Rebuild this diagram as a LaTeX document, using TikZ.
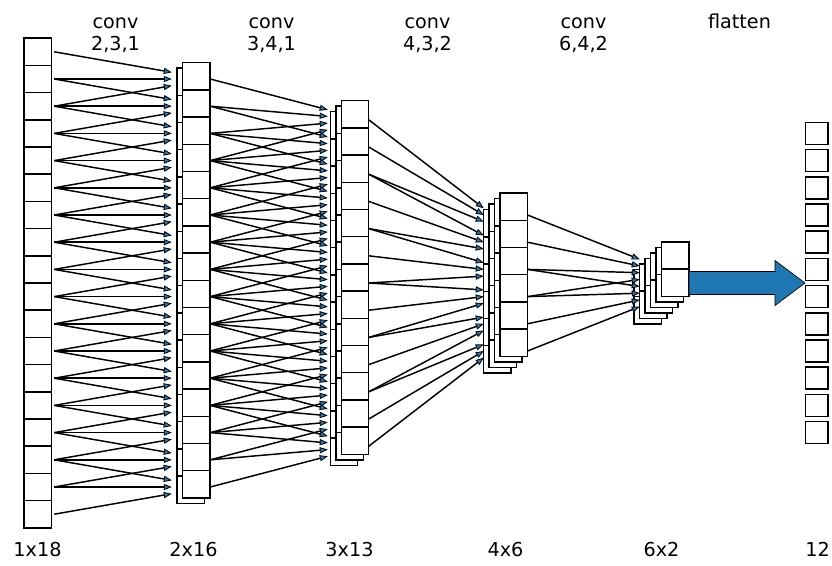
\documentclass[tikz,border=0pt]{standalone}
\usepackage{fontspec}
\setmainfont{DejaVu Sans}
\usetikzlibrary{arrows.meta}
\definecolor{tabblue}{HTML}{1F77B4}
\tikzset{
  cell/.style={draw, fill=white, line width=1.1pt, inner sep=0pt, minimum width=20.6pt, minimum height=20.4pt},
  outcell/.style={draw, fill=white, line width=1.1pt, inner sep=0pt, minimum width=16.9pt, minimum height=16.5pt},
  conn/.style={line width=1.1pt, -{Triangle[length=6pt,width=4.6pt,fill=tabblue,line width=0.6pt]}},
  lbl/.style={anchor=base, inner sep=0pt, font=\fontsize{14.4}{17}\selectfont},
  flat/.style={fill=tabblue, draw=black, line width=0.5pt}
}

\begin{document}
\begin{tikzpicture}[x=0.75pt,y=0.75pt,yscale=-1,xscale=1]
\useasboundingbox (0,0) rectangle (832,565);

%Layers: layer/channels/cells/front x/first y
\foreach \l/\C/\N/\fx/\fy in {0/1/18/37.5/51.8, 1/2/16/196.25/76.25, 2/3/13/355/114.3, 3/4/6/513.75/206.75, 4/6/2/675.25/255.6} {
  \pgfmathtruncatemacro\n{\N-1}
  % back channel first
  \foreach \c in {\C,...,1}
    \foreach \i in {0,...,\n}
      \node[cell] (a\l-\c-\i) at ({\fx-5.5*(\c-1)}, {\fy+5.5*(\c-1)+27.2*\i}) {};
}

%Output layer
\foreach \i in {1,...,12}
  \node[outcell] (o-\i) at (816.5, {133.4+27.2*(\i-1)}) {};

%Conv connections: layer/kernel/stride/outputs/start x/start y/end x/end y
\foreach \l/\K/\S/\M/\sx/\sy/\ex/\ey in {0/3/1/16/54.25/51.8/171.75/79.0, 1/4/1/13/210.25/79.0/327.75/119.8, 2/3/2/6/368.75/119.8/483.75/215.0, 3/4/2/2/527.5/215.0/639.75/269.35} {
  \pgfmathtruncatemacro\m{\M-1}
  \pgfmathtruncatemacro\kk{\K-1}
  \foreach \j in {0,...,\m}
    \foreach \k in {0,...,\kk} {
      \pgfmathtruncatemacro\i{\j*\S+\k}
      \coordinate (s\l-\i) at (\sx, {\sy+27.2*\i});
      \coordinate (e\l-\j-\k) at (\ex, {\ey+27.2*\j+(\k-(\K-1)/2)*6.7});
      \draw[conn] (s\l-\i) -- (e\l-\j-\k);
    }
}

%Flatten arrow
\coordinate (flatS) at (689,283);
\coordinate (flatE) at (805,283);
\draw[flat] (flatS) ++(0,-11.5) -- ++(86,0) -- ++(0,-11) -- (flatE) -- ++(-30,22.5) -- ++(0,-11) -- ++(-86,0) -- cycle;

% Text Node
\node[lbl] (t1a) at (115.5,28) {conv};
\node[lbl] (t1b) at (115.5,50) {2,3,1};
\node[lbl] (t2a) at (271.5,28) {conv};
\node[lbl] (t2b) at (271.5,50) {3,4,1};
\node[lbl] (t3a) at (427.5,28) {conv};
\node[lbl] (t3b) at (427.5,50) {4,3,2};
\node[lbl] (t4a) at (583.5,28) {conv};
\node[lbl] (t4b) at (583.5,50) {6,4,2};
\node[lbl] (t5a) at (739.5,28) {flatten};
% Text Node
\node[lbl] (b0) at (37.5,556) {1x18};
\node[lbl] (b1) at (193.5,556) {2x16};
\node[lbl] (b2) at (349.5,556) {3x13};
\node[lbl] (b3) at (505.5,556) {4x6};
\node[lbl] (b4) at (661.5,556) {6x2};
\node[lbl] (b5) at (817.5,556) {12};

\end{tikzpicture}
\end{document}
